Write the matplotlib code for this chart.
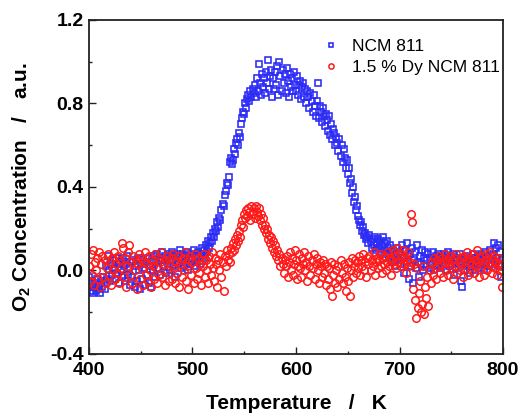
import numpy as np
import matplotlib
matplotlib.use("Agg")
import matplotlib.pyplot as plt

# Temperature grid of the TPD scan (K), one reading per kelvin
temperature = np.arange(400.0, 800.0, 1.0)

# O2 signal, undoped NCM 811 (a.u.)
ncm811 = [
    -0.03, -0.07, -0.10, -0.05, -0.11, -0.08, -0.06, -0.10, -0.04, -0.09,
    -0.07, -0.11, -0.05, -0.08, -0.03, -0.09, 0.02, -0.04, 0.07, 0.00,
    -0.05, 0.03, -0.02, 0.05, 0.01, -0.04, 0.06, -0.01, 0.03, -0.06,
    0.04, 0.00, -0.03, 0.06, 0.02, -0.05, 0.03, 0.07, -0.02, 0.01,
    -0.07, 0.04, -0.03, 0.05, -0.08, 0.02, -0.05, 0.06, 0.00, -0.09,
    0.03, -0.04, 0.05, 0.01, -0.07, 0.04, -0.02, 0.06, -0.06, 0.02,
    -0.08, 0.05, 0.00, 0.07, -0.03, 0.04, 0.08, 0.01, 0.06, -0.02,
    0.05, 0.09, 0.02, 0.07, -0.01, 0.06, 0.03, 0.08, 0.00, 0.05,
    0.09, 0.02, 0.07, -0.03, 0.04, 0.08, 0.03, 0.06, 0.10, 0.01,
    0.05, 0.08, 0.02, 0.07, 0.04, 0.09, 0.00, 0.06, 0.03, 0.08,
    0.05, 0.10, 0.02, 0.07, 0.04, 0.09, 0.06, 0.03, 0.08, 0.11,
    0.07, 0.10, 0.06, 0.12, 0.09, 0.14, 0.11, 0.13, 0.16, 0.14,
    0.18, 0.16, 0.20, 0.19, 0.23, 0.21, 0.25, 0.24, 0.29, 0.32,
    0.31, 0.36, 0.38, 0.42, 0.41, 0.45, 0.52, 0.54, 0.51, 0.53,
    0.58, 0.56, 0.61, 0.63, 0.60, 0.66, 0.64, 0.70, 0.73, 0.76,
    0.75, 0.80, 0.78, 0.82, 0.84, 0.81, 0.86, 0.83, 0.87, 0.85,
    0.89, 0.83, 0.92, 0.86, 0.99, 0.90, 0.84, 0.94, 0.88, 0.92,
    0.85, 0.95, 0.90, 1.01, 0.87, 0.93, 0.96, 0.83, 0.92, 0.87,
    0.95, 0.89, 0.98, 0.84, 1.00, 0.93, 0.86, 0.96, 0.90, 0.94,
    0.85, 0.97, 0.91, 0.83, 0.94, 0.88, 0.92, 0.86, 0.95, 0.89,
    0.86, 0.93, 0.84, 0.89, 0.91, 0.82, 0.88, 0.90, 0.83, 0.87,
    0.80, 0.86, 0.83, 0.78, 0.85, 0.81, 0.76, 0.84, 0.79, 0.74,
    0.81, 0.90, 0.73, 0.79, 0.76, 0.71, 0.78, 0.74, 0.69, 0.75,
    0.72, 0.67, 0.74, 0.65, 0.70, 0.63, 0.68, 0.66, 0.60, 0.64,
    0.61, 0.57, 0.63, 0.55, 0.60, 0.52, 0.58, 0.54, 0.49, 0.53,
    0.46, 0.49, 0.42, 0.44, 0.37, 0.40, 0.33, 0.35, 0.29, 0.31,
    0.26, 0.24, 0.22, 0.23, 0.19, 0.21, 0.17, 0.18, 0.15, 0.16,
    0.13, 0.17, 0.14, 0.11, 0.15, 0.12, 0.16, 0.10, 0.13, 0.15,
    0.11, 0.14, 0.09, 0.12, 0.16, 0.10, 0.13, 0.08, 0.14, 0.11,
    0.07, 0.12, 0.09, 0.04, 0.10, 0.06, 0.02, 0.08, 0.11, 0.05,
    0.09, 0.03, 0.12, 0.06, -0.01, 0.10, 0.04, 0.13, 0.07, -0.04,
    0.08, 0.02, 0.11, -0.06, 0.05, 0.09, 0.01, 0.12, 0.04, -0.03,
    0.07, 0.03, 0.10, 0.00, 0.06, 0.09, 0.02, 0.05, 0.08, 0.01,
    0.06, 0.03, 0.09, 0.00, 0.05, 0.07, 0.02, 0.08, 0.04, 0.06,
    0.01, 0.07, 0.03, 0.08, 0.05, 0.00, 0.06, 0.09, 0.02, 0.05,
    0.07, 0.03, 0.08, -0.02, 0.05, 0.01, 0.06, 0.03, 0.08, -0.05,
    -0.08, 0.04, 0.00, 0.06, 0.02, 0.07, 0.03, 0.05, -0.01, 0.06,
    0.02, 0.08, 0.04, 0.00, 0.06, 0.03, 0.07, 0.01, 0.05, 0.08,
    0.03, 0.06, 0.00, 0.09, 0.04, 0.07, 0.02, 0.10, 0.05, 0.03,
    0.08, 0.13, 0.04, 0.11, 0.06, 0.12, 0.02, 0.09, -0.03, 0.05,
]

# O2 signal, 1.5 % Dy doped NCM 811 (a.u.)
dy_ncm811 = [
    0.02, -0.05, 0.08, -0.02, 0.10, -0.07, 0.04, 0.00, 0.06, -0.04,
    0.09, -0.08, 0.03, 0.07, -0.03, 0.05, -0.06, 0.01, 0.08, -0.02,
    0.04, -0.07, 0.06, 0.00, 0.09, -0.04, 0.03, -0.01, 0.07, -0.06,
    0.05, 0.01, 0.13, 0.11, -0.03, 0.06, -0.08, 0.02, 0.09, 0.12,
    -0.02, 0.04, -0.06, 0.07, 0.00, 0.05, -0.09, 0.03, 0.08, -0.04,
    0.06, 0.01, -0.07, 0.04, 0.09, -0.02, 0.03, -0.05, 0.07, 0.00,
    -0.08, 0.05, 0.02, -0.04, 0.08, 0.01, -0.06, 0.06, -0.02, 0.04,
    0.09, -0.03, 0.03, -0.07, 0.05, 0.00, 0.07, -0.05, 0.02, 0.06,
    -0.04, 0.08, 0.01, -0.06, 0.04, -0.01, 0.07, -0.08, 0.03, 0.05,
    -0.03, 0.06, 0.00, 0.09, -0.05, 0.02, -0.09, 0.05, 0.07, -0.02,
    0.04, -0.06, 0.08, 0.01, -0.04, 0.06, -0.01, 0.03, -0.07, 0.05,
    0.02, 0.08, -0.03, 0.05, 0.00, -0.06, 0.07, 0.03, -0.02, 0.09,
    0.01, -0.05, 0.06, 0.03, -0.08, 0.05, 0.00, 0.08, -0.03, 0.04,
    -0.10, 0.07, 0.02, 0.10, 0.05, 0.08, 0.04, 0.11, 0.09, 0.13,
    0.10, 0.15, 0.12, 0.17, 0.14, 0.19, 0.16, 0.22, 0.24, 0.21,
    0.27, 0.25, 0.29, 0.26, 0.30, 0.28, 0.24, 0.31, 0.27, 0.30,
    0.25, 0.31, 0.28, 0.26, 0.30, 0.24, 0.27, 0.22, 0.25, 0.20,
    0.22, 0.18, 0.20, 0.15, 0.17, 0.13, 0.16, 0.11, 0.14, 0.09,
    0.12, 0.07, 0.10, 0.05, 0.08, 0.02, 0.06, 0.03, -0.01, 0.05,
    0.02, 0.07, -0.03, 0.04, 0.09, 0.00, 0.06, -0.02, 0.03, 0.10,
    0.05, -0.04, 0.02, 0.08, 0.01, -0.03, 0.06, 0.03, 0.09, 0.00,
    0.04, -0.05, 0.07, 0.02, -0.02, 0.05, 0.01, 0.08, -0.04, 0.03,
    0.06, 0.00, -0.06, 0.04, 0.02, -0.03, 0.05, -0.01, 0.03, -0.07,
    0.02, -0.04, 0.01, -0.09, 0.04, -0.12, -0.02, 0.03, -0.06, 0.00,
    -0.08, 0.02, -0.04, 0.05, -0.01, -0.06, 0.03, -0.03, -0.10, 0.01,
    -0.05, 0.04, -0.12, 0.00, 0.06, -0.03, 0.02, 0.05, -0.01, 0.04,
    0.01, 0.07, -0.02, 0.05, 0.02, 0.08, 0.00, 0.04, -0.03, 0.06,
    0.03, 0.07, 0.00, 0.05, 0.02, 0.09, -0.02, 0.04, 0.06, 0.01,
    0.05, 0.08, 0.02, -0.01, 0.06, 0.03, 0.07, 0.00, 0.04, 0.09,
    0.02, 0.06, -0.02, 0.05, 0.10, 0.03, 0.07, 0.01, 0.11, 0.04,
    0.08, 0.02, 0.06, 0.10, 0.03, 0.07, -0.01, 0.05, 0.09, 0.02,
    0.04, 0.27, 0.23, -0.09, 0.03, -0.14, -0.23, 0.01, -0.18, -0.11,
    -0.05, -0.20, -0.16, 0.02, -0.21, -0.08, -0.13, -0.03, -0.17, 0.00,
    -0.06, 0.04, -0.02, 0.06, 0.01, -0.04, 0.05, 0.02, 0.07, -0.01,
    0.03, 0.06, -0.03, 0.04, 0.08, 0.00, 0.05, -0.02, 0.03, 0.07,
    0.01, 0.05, -0.04, 0.06, 0.02, 0.08, -0.01, 0.04, 0.00, 0.06,
    0.03, -0.03, 0.07, 0.01, 0.05, 0.09, -0.02, 0.04, 0.06, 0.00,
    0.03, 0.08, -0.01, 0.05, 0.02, 0.10, 0.04, -0.03, 0.06, 0.01,
    0.07, 0.03, -0.02, 0.05, 0.08, 0.00, 0.04, 0.09, 0.02, -0.01,
    0.05, 0.07, 0.01, 0.04, -0.02, 0.06, 0.03, 0.00, 0.02, -0.08,
]

series_labels = ["NCM 811", "1.5 % Dy NCM 811"]
x_ticks = [400, 500, 600, 700, 800]
y_ticks = [-0.4, 0.0, 0.4, 0.8, 1.2]

plt.rcParams["font.family"] = ["Liberation Sans", "DejaVu Sans"]
plt.rcParams["mathtext.fontset"] = "custom"
plt.rcParams["mathtext.rm"] = "Liberation Sans"
plt.rcParams["mathtext.bf"] = "Liberation Sans:bold"

fig = plt.figure(figsize=(5.21, 4.13), dpi=100)
ax = fig.add_axes([0.1708, 0.1429, 0.7947, 0.8087])

ax.plot(temperature, ncm811, linestyle="none", marker="s", markersize=5.0,
        markerfacecolor="none", markeredgecolor="#2b2bf5", markeredgewidth=1.15,
        label=series_labels[0])
ax.plot(temperature, dy_ncm811, linestyle="none", marker="o", markersize=5.4,
        markerfacecolor="none", markeredgecolor="#ff1a1a", markeredgewidth=1.1,
        label=series_labels[1])

ax.set_xlim(400, 800)
ax.set_ylim(-0.4, 1.2)
ax.set_xticks(x_ticks)
ax.set_yticks(y_ticks)
ax.set_xticks([450, 550, 650, 750], minor=True)
ax.set_yticks([-0.2, 0.2, 0.6, 1.0], minor=True)
ax.set_xticklabels([str(v) for v in x_ticks])
ax.set_yticklabels([f"{v:.1f}" for v in y_ticks])

ax.tick_params(which="both", direction="in", top=False, right=False,
               width=1.0, color="#222222")
ax.tick_params(which="major", length=5)
ax.tick_params(which="minor", length=2.5)
ax.tick_params(axis="x", which="major", pad=6)
ax.tick_params(axis="y", which="major", pad=4)
for lbl in ax.get_xticklabels() + ax.get_yticklabels():
    lbl.set_fontsize(14)
    lbl.set_fontweight("bold")

for sp in ax.spines.values():
    sp.set_linewidth(1.3)
    sp.set_color("#222222")

ax.set_xlabel("Temperature   /   K", fontsize=15, fontweight="bold")
ax.set_ylabel("O$_\\mathbf{2}$ Concentration   /   a.u.", fontsize=15,
              fontweight="bold")
ax.xaxis.set_label_coords(0.5, -0.12)
ax.yaxis.set_label_coords(-0.135, 0.5)

leg = ax.legend(loc="upper right", frameon=False, fontsize=12.5, markerscale=0.7,
                handletextpad=0.6, handlelength=1.2, borderaxespad=0.3,
                labelspacing=0.35, bbox_to_anchor=(1.022, 0.98))

fig.savefig("out.png", dpi=100)
